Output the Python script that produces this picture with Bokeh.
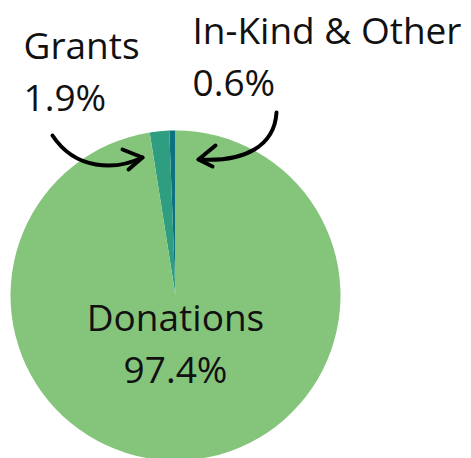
import numpy as np
from bokeh.plotting import figure
from bokeh.models import Range1d
from bokeh.core.properties import value
from bokeh.embed import file_html
from bokeh.resources import INLINE

# Data (order: counterclockwise from 12 o'clock)
categories = ["In-Kind & Other", "Grants", "Donations"]
percents = [0.6, 1.9, 97.4]
colors = ["#0d7182", "#2f9e80", "#85c57b"]
labels = ["In-Kind & Other\n0.6%", "Grants\n1.9%", "Donations\n97.4%"]

W, H = 471, 458
p = figure(width=W, height=H, output_backend="svg", toolbar_location=None,
           x_range=Range1d(0, W), y_range=Range1d(0, H),
           min_border=0, outline_line_color=None)
p.axis.visible = False
p.grid.visible = False
p.background_fill_color = "white"
p.border_fill_color = "white"

def Y(ypix):
    return 458 - ypix

cx, cy, r = 175, Y(295), 165
vals = np.array(percents) / sum(percents)
ends = np.pi / 2 + 2 * np.pi * np.cumsum(vals)
starts = np.concatenate([[np.pi / 2], ends[:-1]])
p.wedge(x=cx, y=cy, radius=r, start_angle=starts, end_angle=ends,
        fill_color=colors, line_color=None)

font = value("Open Sans")
fs = "37px"
dy = -14
def lab(x, y1, y2, text, align):
    l1, l2 = text.split("\n")
    p.text(x=[x, x], y=[Y(y1 + dy), Y(y2 + dy)], text=[l1, l2], text_font=font,
           text_font_size=fs, text_align=align, text_baseline="alphabetic",
           text_color="#111111")

lab(23, 58, 110, labels[1], "left")
lab(192, 43, 95, labels[0], "left")
lab(175, 330, 382, labels[2], "center")

# Arrows
lw = 4
p.bezier(x0=[52], y0=[Y(135)], x1=[142], y1=[Y(157)],
         cx0=[75], cy0=[Y(170)], cx1=[115], cy1=[Y(170)],
         line_color="black", line_width=lw, line_cap="round")
p.line(x=[122, 142, 128], y=[Y(149), Y(157), Y(169)], line_color="black",
       line_width=lw, line_cap="round", line_join="round")

p.bezier(x0=[276], y0=[Y(112)], x1=[198], y1=[Y(159)],
         cx0=[274], cy0=[Y(145)], cx1=[245], cy1=[Y(162)],
         line_color="black", line_width=lw, line_cap="round")
p.line(x=[215, 198, 212], y=[Y(145), Y(159), Y(166)], line_color="black",
       line_width=lw, line_cap="round", line_join="round")

open("out.html", "w").write(file_html(p, INLINE))
